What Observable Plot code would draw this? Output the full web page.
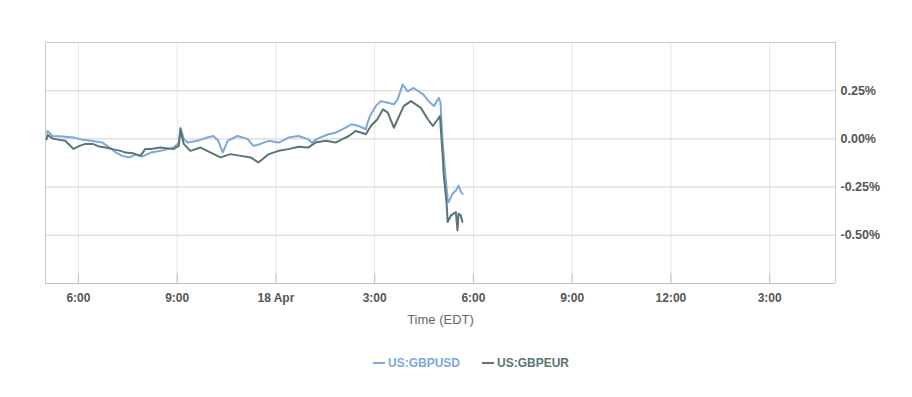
<!DOCTYPE html>
<html>
<head>
<meta charset="utf-8">
<script src="https://cdn.jsdelivr.net/npm/d3@7"></script>
<script src="https://cdn.jsdelivr.net/npm/@observablehq/plot@0.6"></script>
<style>
  html, body { margin: 0; padding: 0; background: #fff; }
  #chart svg { display: block; }
  .legend { padding: 3px 0 0 373px; height: 40px; font-family: "Liberation Sans", Arial, sans-serif; font-size: 12px; font-weight: bold; line-height: 14px; display: flex; gap: 22px; }
  .legend .item { display: flex; align-items: center; gap: 3px; }
  .legend .sw { display: inline-block; width: 12px; height: 2px; }
</style>
</head>
<body>
<div id="chart"></div>
<div class="legend" id="legend"></div>
<script>
// Series names and colours
const seriesNames = ["US:GBPUSD", "US:GBPEUR"];
const seriesColors = ["#7ea8d8", "#5a7574"];

// US:GBPUSD — time (EDT, from 17:00 on 17 Apr) and % change
const usdTimes = ["17:02","17:04","17:13","17:31","17:51","18:08","18:22","18:44","18:57","19:08","19:20","19:33","19:44","19:57","20:12","20:30","20:53","21:03","21:06","21:12","21:19","21:37","21:55","22:06","22:15","22:23","22:32","22:50","23:08","23:19","23:32","23:47","00:05","00:23","00:41","00:59","01:05","01:18","01:36","01:49","02:07","02:18","02:31","02:44","02:47","02:53","03:02","03:11","03:24","03:35","03:42","03:51","04:00","04:11","04:20","04:29","04:38","04:48","04:57","05:00","05:04","05:06","05:09","05:13","05:15","05:22","05:28","05:33","05:37","05:40"];
const usdValues = [0.032,0.041,0.015,0.012,0.007,-0.005,-0.010,-0.019,-0.045,-0.071,-0.088,-0.096,-0.082,-0.091,-0.071,-0.062,-0.045,-0.021,0.058,0.000,-0.019,-0.010,0.007,0.015,-0.010,-0.071,-0.010,0.015,0.000,-0.036,-0.026,-0.010,-0.019,0.007,0.015,-0.002,-0.019,0.004,0.024,0.032,0.058,0.076,0.067,0.050,0.084,0.127,0.170,0.196,0.187,0.179,0.205,0.282,0.247,0.264,0.247,0.230,0.196,0.170,0.213,0.187,-0.019,-0.088,-0.191,-0.311,-0.328,-0.284,-0.268,-0.242,-0.273,-0.285];

// US:GBPEUR — time (EDT) and % change
const eurTimes = ["17:02","17:04","17:13","17:26","17:36","17:51","18:02","18:13","18:26","18:38","18:49","19:02","19:17","19:26","19:39","19:53","20:02","20:12","20:30","20:53","21:03","21:06","21:12","21:24","21:43","22:01","22:19","22:37","22:56","23:14","23:28","23:47","00:05","00:23","00:41","00:59","01:12","01:31","01:49","02:00","02:13","02:25","02:36","02:44","02:53","03:05","03:15","03:24","03:35","03:42","03:53","04:06","04:15","04:24","04:37","04:46","04:55","04:59","05:04","05:06","05:11","05:13","05:19","05:28","05:31","05:33","05:37","05:40"];
const eurValues = [-0.002,0.021,0.002,-0.005,-0.010,-0.052,-0.036,-0.026,-0.026,-0.040,-0.045,-0.053,-0.062,-0.071,-0.074,-0.088,-0.052,-0.052,-0.045,-0.053,-0.036,0.050,-0.026,-0.062,-0.045,-0.071,-0.096,-0.079,-0.088,-0.096,-0.122,-0.079,-0.062,-0.053,-0.041,-0.045,-0.019,-0.010,-0.019,-0.002,0.015,0.041,0.032,0.024,0.067,0.102,0.153,0.136,0.058,0.102,0.170,0.196,0.179,0.161,0.102,0.067,0.102,0.119,-0.088,-0.191,-0.328,-0.431,-0.397,-0.380,-0.474,-0.387,-0.397,-0.431];

// Axis settings
const xDomainStart = "2017-04-17T17:00:00Z";
const xDomainEnd = "2017-04-18T17:00:00Z";
const yDomain = [-0.75, 0.5];
const yTicks = [-0.5, -0.25, 0, 0.25];
const xAxisTitle = "Time (EDT)";

function toDate(t) {
  const h = +t.slice(0, 2);
  const day = h >= 17 ? "17" : "18";
  return new Date(`2017-04-${day}T${t}:00Z`);
}
const rows = [
  ...usdTimes.map((t, i) => ({series: seriesNames[0], time: toDate(t), value: usdValues[i]})),
  ...eurTimes.map((t, i) => ({series: seriesNames[1], time: toDate(t), value: eurValues[i]}))
];
const xDomain = [new Date(xDomainStart), new Date(xDomainEnd)];
const xTicks = d3.utcHour.every(3).range(new Date(+xDomain[0] + 1), xDomain[1]);
const fmtX = d => {
  const h = d.getUTCHours();
  if (h === 0) return `${d.getUTCDate()} Apr`;
  const h12 = h % 12 === 0 ? 12 : h % 12;
  return `${h12}:00`;
};
const tickLen = (yDomain[1] - yDomain[0]) * 10 / 241;

const chart = Plot.plot({
  width: 912,
  height: 340,
  marginTop: 42,
  marginBottom: 57,
  marginLeft: 45,
  marginRight: 77,
  style: {fontFamily: "'Liberation Sans', Arial, sans-serif", fontSize: "12px", color: "#666", background: "#fff"},
  x: {type: "utc", domain: xDomain},
  y: {domain: yDomain},
  color: {domain: seriesNames, range: seriesColors},
  marks: [
    Plot.ruleX(xTicks, {stroke: "#e6e6e6", strokeWidth: 1}),
    Plot.ruleY(yTicks, {stroke: "#d2d2d2", strokeWidth: 1}),
    Plot.ruleY([yDomain[1]], {stroke: "#c8c8c8"}),
    Plot.ruleX(xDomain, {stroke: "#c8c8c8"}),
    Plot.ruleY([yDomain[0]], {stroke: "#c0c0c0"}),
    Plot.ruleX(xTicks, {y1: yDomain[0], y2: yDomain[0] + tickLen, stroke: "#c0c0c0"}),
    Plot.line(rows, {x: "time", y: "value", z: "series", stroke: "series", strokeWidth: 2, curve: "linear"}),
    Plot.axisX(xTicks, {tickSize: 0, tickPadding: 10, tickFormat: fmtX, label: null, fill: "#555", fontWeight: "bold"}),
    Plot.axisY(yTicks, {anchor: "right", tickSize: 0, tickPadding: 5, tickFormat: d => d.toFixed(2) + "%", label: null, fill: "#555", fontWeight: "bold", fontSize: 12.5}),
    Plot.text([xAxisTitle], {frameAnchor: "bottom", dy: 40, fill: "#666", fontSize: 13})
  ]
});
document.getElementById("chart").appendChild(chart);

const legend = document.getElementById("legend");
seriesNames.forEach((name, i) => {
  const item = document.createElement("span");
  item.className = "item";
  item.style.color = seriesColors[i];
  const sw = document.createElement("span");
  sw.className = "sw";
  sw.style.background = seriesColors[i];
  item.appendChild(sw);
  item.appendChild(document.createTextNode(name));
  legend.appendChild(item);
});
</script>
</body>
</html>
